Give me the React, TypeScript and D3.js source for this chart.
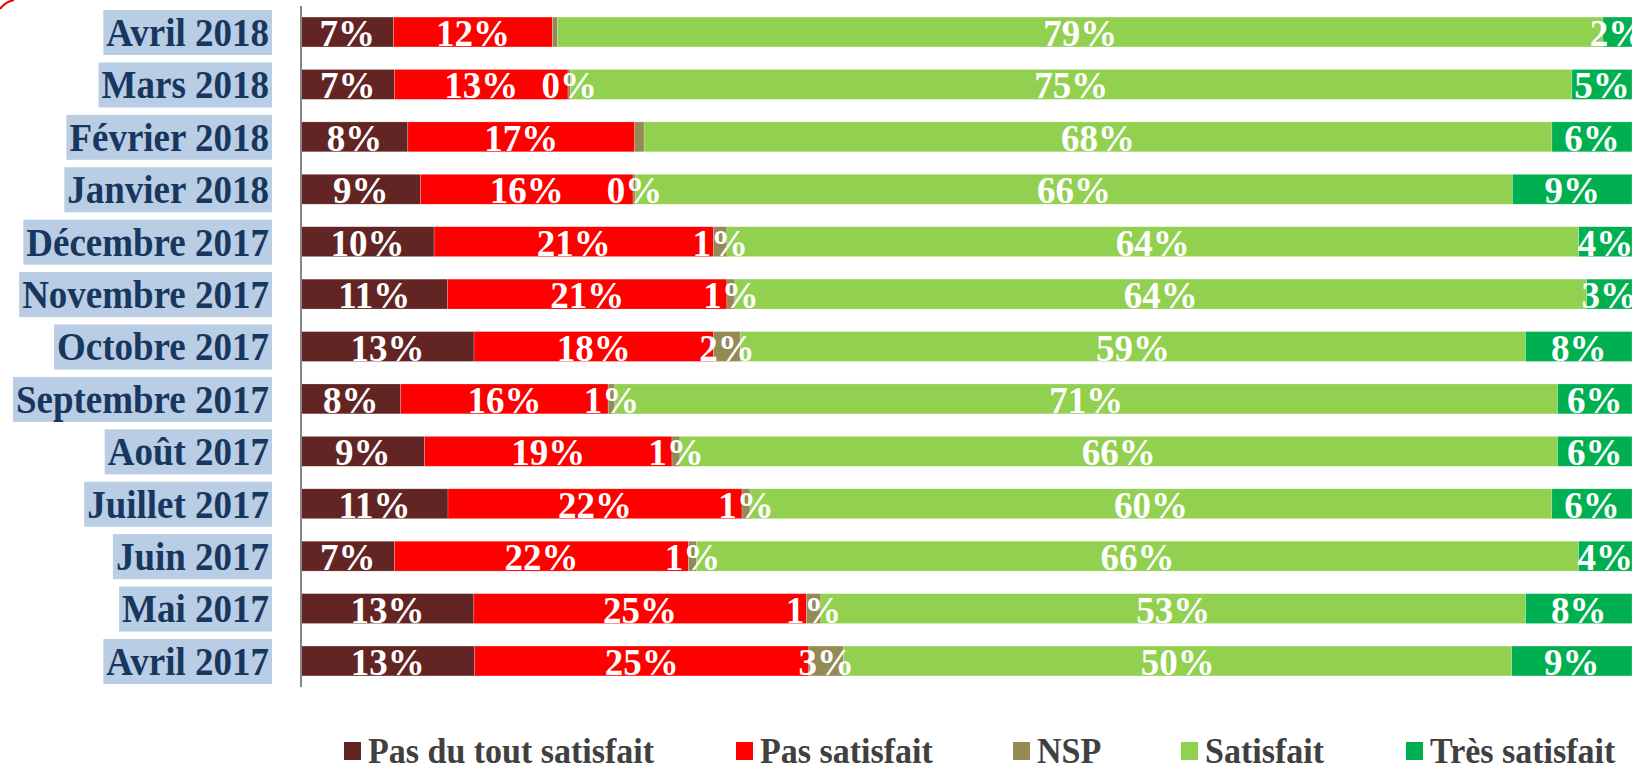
import React, { useEffect, useRef } from 'react'
import * as d3 from 'd3'

const months = [
  'Avril 2018', 'Mars 2018', 'Février 2018', 'Janvier 2018', 'Décembre 2017',
  'Novembre 2017', 'Octobre 2017', 'Septembre 2017', 'Août 2017', 'Juillet 2017',
  'Juin 2017', 'Mai 2017', 'Avril 2017',
]
const pasDuTout = [7, 7, 8, 9, 10, 11, 13, 7.5, 9.3, 11, 7, 13, 13]
const pasSatisfait = [12, 13, 17, 16, 21, 21, 18, 15.6, 18.6, 22, 22, 25, 25]
const nsp = [0.4, 0.2, 0.7, 0.2, 1, 0.6, 2, 0.5, 0.6, 0.6, 0.6, 1.1, 2.6]
const nspLabelShown = [false, true, false, true, true, true, true, true, true, true, true, true, true]
const satisfait = [79, 75, 68, 66, 64, 64, 59, 70.9, 66, 60, 66, 53, 50]
const tresSatisfait = [2.2, 4.5, 6, 9, 4, 3.4, 8, 5.6, 5.6, 6, 4, 8, 9]

const seriesNames = ['Pas du tout satisfait', 'Pas satisfait', 'NSP', 'Satisfait', 'Très satisfait']
const seriesColors = ['#632523', '#ff0000', '#948a54', '#92d050', '#00b050']
const legendX = [344, 736, 1013, 1181, 1406]

const W = 1634
const H = 765

export default function App() {
  const svgRef = useRef<SVGSVGElement>(null)

  useEffect(() => {
    if (!svgRef.current) return
    const svg = d3.select(svgRef.current)
    svg.selectAll('*').remove()

    const rows = months.map((m, i) => ({
      month: m,
      [seriesNames[0]]: pasDuTout[i],
      [seriesNames[1]]: pasSatisfait[i],
      [seriesNames[2]]: nsp[i],
      [seriesNames[3]]: satisfait[i],
      [seriesNames[4]]: tresSatisfait[i],
    }))

    const stack = d3.stack<any>().keys(seriesNames).offset(d3.stackOffsetExpand)
    const layers = stack(rows)

    const x = d3.scaleLinear().domain([0, 1]).range([301, 1632])
    const y = d3.scaleBand<string>()
      .domain(months)
      .range([5.8, 687.2])
      .paddingInner(0.43)
      .paddingOuter(0.215)

    const serif = '"Liberation Serif", "Times New Roman", serif'

    // tiny red arc in the corner
    svg.append('path')
      .attr('d', 'M0,9 Q5,2 14,0')
      .attr('fill', 'none')
      .attr('stroke', '#e00000')
      .attr('stroke-width', 2)

    // category labels with light blue boxes
    const labG = svg.append('g')
    months.forEach(m => {
      const cy = y(m)! + y.bandwidth() / 2
      const t = labG.append('text')
        .attr('transform', `translate(269,${cy}) scale(1,1.1)`)
        .attr('dy', '0.34em')
        .attr('text-anchor', 'end')
        .style('font-family', serif)
        .style('font-weight', 'bold')
        .style('font-size', '37px')
        .style('fill', '#17375e')
        .text(m)
      const bb = (t.node() as SVGTextElement).getBBox()
      labG.insert('rect', 'text')
        .attr('x', 269 + bb.x - 3)
        .attr('y', cy - 22)
        .attr('width', 272 - (269 + bb.x - 3))
        .attr('height', 45)
        .attr('fill', '#b9cde5')
    })

    // bars
    layers.forEach((layer, si) => {
      svg.append('g').selectAll('rect')
        .data(layer)
        .enter().append('rect')
        .attr('x', d => x(d[0]))
        .attr('y', d => y(d.data.month)!)
        .attr('width', d => x(d[1]) - x(d[0]))
        .attr('height', y.bandwidth())
        .attr('fill', seriesColors[si])
        .attr('stroke', 'rgba(255,255,255,0.35)')
        .attr('stroke-width', 0.6)
    })

    // value labels
    const raw = [pasDuTout, pasSatisfait, nsp, satisfait, tresSatisfait]
    layers.forEach((layer, si) => {
      svg.append('g').selectAll('text')
        .data(layer.map((d, i) => ({ d, i })).filter(o => si !== 2 || nspLabelShown[o.i]))
        .enter().append('text')
        .attr('x', o => (x(o.d[0]) + x(o.d[1])) / 2)
        .attr('y', o => y(o.d.data.month)! + y.bandwidth() / 2 + 14)
        .attr('text-anchor', 'middle')
        .style('font-family', serif)
        .style('font-weight', 'bold')
        .style('font-size', '37px')
        .style('fill', '#ffffff')
        .text(o => `${Math.round(raw[si][o.i])}%`)
    })

    // axis line
    svg.append('line')
      .attr('x1', 301).attr('x2', 301)
      .attr('y1', 6).attr('y2', 687)
      .attr('stroke', '#868686')
      .attr('stroke-width', 2)

    // legend
    const lg = svg.append('g')
    seriesNames.forEach((name, i) => {
      lg.append('rect')
        .attr('x', legendX[i])
        .attr('y', 742)
        .attr('width', 17)
        .attr('height', 18)
        .attr('fill', seriesColors[i])
      lg.append('text')
        .attr('transform', `translate(${legendX[i] + 24},763) scale(1,1.08)`)
        .style('font-family', serif)
        .style('font-weight', 'bold')
        .style('font-size', '34px')
        .style('fill', '#404040')
        .text(name)
    })
  }, [])

  return (
    <svg
      ref={svgRef}
      width={W}
      height={H}
      style={{ position: 'absolute', left: 0, top: 0, background: '#fff' }}
    />
  )
}
